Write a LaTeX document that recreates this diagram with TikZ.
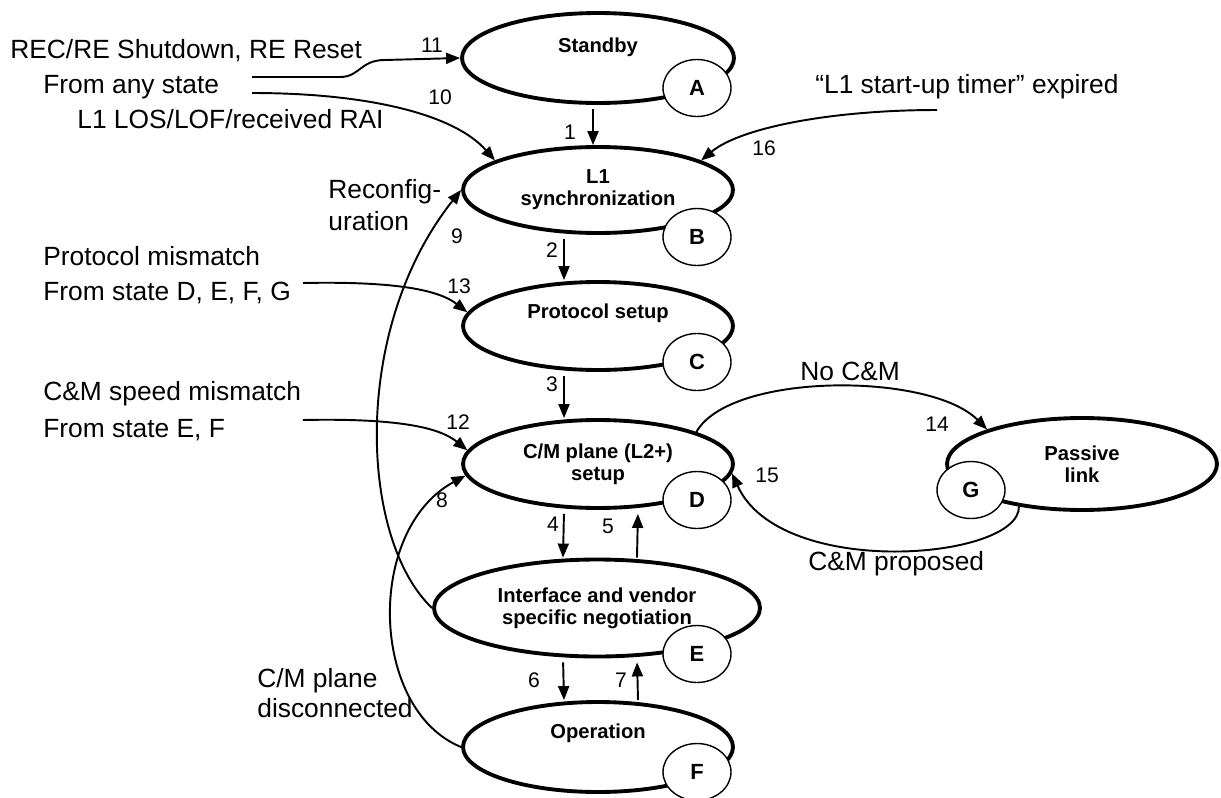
\documentclass[tikz,border=0pt]{standalone}
\usepackage{fontspec}
\setmainfont{Liberation Sans}
\usepackage{tikz}
\usetikzlibrary{
  shapes.geometric,
  arrows.meta
}

\begin{document}
\begin{tikzpicture}[
  x=0.02cm, y=-0.02cm,
  state/.style={
    ellipse, draw, line width=2.2pt,
    inner sep=0pt, align=center,
    font=\fontsize{11.5}{12.5}\selectfont\bfseries},
  stxt/.style={
    inner sep=0pt, align=center,
    font=\fontsize{11.5}{12.5}\selectfont\bfseries},
  tag/.style={
    ellipse, draw, fill=white, line width=0.8pt,
    minimum width=1.36cm, minimum height=1.14cm,
    inner sep=0pt,
    font=\fontsize{12.5}{14}\selectfont\bfseries},
  txt/.style={
    anchor=base west, inner sep=0pt,
    font=\fontsize{15}{20}\selectfont},
  num/.style={
    inner sep=0pt, font=\fontsize{12}{14}\selectfont},
  arr/.style={
    line width=1.1pt,
    -{Triangle[length=2.8mm, width=2.2mm]}}
]
\useasboundingbox (0,0) rectangle (1221,798);

\node[state, minimum width=5.44cm, minimum height=1.8cm,
  label={[stxt, yshift=0.22cm]center:Standby}] (sA) at (598,58) {};
\node[state, minimum width=5.4cm, minimum height=1.72cm]
  (sB) at (598,190) {L1\\synchronization};
\node[state, minimum width=5.4cm, minimum height=1.76cm,
  label={[stxt, yshift=0.26cm]center:Protocol setup}] (sC) at (598,326) {};
\node[state, minimum width=5.4cm, minimum height=1.76cm]
  (sD) at (598,464) {C/M plane (L2+)\\setup};
\node[state, minimum width=6.52cm, minimum height=1.94cm]
  (sE) at (597,608) {Interface and vendor\\specific negotiation};
\node[state, minimum width=5.4cm, minimum height=1.8cm,
  label={[stxt, yshift=0.28cm]center:Operation}] (sF) at (598,747) {};
\node[state, minimum width=5.4cm, minimum height=1.84cm]
  (sG) at (1082,464) {Passive\\link};

\node[txt] (tShut) at (10,58) {REC/RE Shutdown, RE Reset};
\node[txt] (tAny) at (43,93) {From any state};
\node[txt] (tLos) at (77,128) {L1 LOS/LOF/received RAI};
\node[txt] (tRecA) at (328,198) {Reconfig-};
\node[txt] (tRecB) at (328,230) {uration};
\node[txt] (tProtA) at (43,265) {Protocol mismatch};
\node[txt] (tProtB) at (43,300) {From state D, E, F, G};
\node[txt] (tSpdA) at (43,400) {C\&M speed mismatch};
\node[txt] (tSpdB) at (43,437) {From state E, F};
\node[txt] (tDiscA) at (257,687) {C/M plane};
\node[txt] (tDiscB) at (257,717) {disconnected};
\node[txt] (tTimer) at (815,93) {“L1 start-up timer” expired};
\node[txt] (tNoCM) at (800,380) {No C\&M};
\node[txt] (tProp) at (808,570) {C\&M proposed};

\coordinate (cShut) at (252,77);
\coordinate (cLos) at (252,93);
\coordinate (cProt) at (303,283);
\coordinate (cSpd) at (303,420);
\coordinate (cTimer) at (937,110);

\foreach \a/\b/\dx in
  {sA/sB/-0.1,sB/sC/-0.68,sC/sD/-0.68,sD/sE/-0.68,sE/sF/-0.68}{
  \draw[arr, shorten <=0.08cm]
    ([xshift=\dx cm]\a.south) -- ([xshift=\dx cm]\b.north);
}
\foreach \a/\b in {sE/sD,sF/sE}{
  \draw[arr, shorten >=0.08cm]
    ([xshift=0.8cm]\a.north) -- ([xshift=0.8cm]\b.south);
}

\draw[arr] (cShut) -- (340,77)
  .. controls (360,77) and (360,60) .. (385,60) -- (sA.west);
\draw[arr] (cLos) .. controls (370,93) and (455,115) .. (sB.164);
\draw[arr] (cTimer) .. controls (830,110) and (740,128) .. (sB.16);
\draw[arr] (cProt) .. controls (400,281) and (440,291) .. (sC.174);
\draw[arr] (cSpd) .. controls (400,418) and (440,428) .. (sD.174);
\draw[arr] (sE.west) .. controls (360,540) and (350,330) .. (sB.west);
\draw[arr] (sF.west) .. controls (370,710) and (365,530) .. (sD.185);
\draw[arr] (sD.18) .. controls (730,372) and (930,372) .. (sG.160);
\draw[arr] (sG.214) .. controls (1020,560) and (780,580) .. (sD.-4);

\node[tag] (gA) at (697,88) {A};
\node[tag] (gB) at (697,237) {B};
\node[tag] (gC) at (697,362) {C};
\node[tag] (gD) at (697,500) {D};
\node[tag] (gE) at (697,654) {E};
\node[tag] (gF) at (697,772) {F};
\node[tag] (gG) at (971,490) {G};

\node[num] (n1) at (570,132) {1};
\node[num] (n2) at (552,250) {2};
\node[num] (n3) at (552,384) {3};
\node[num] (n4) at (553,524) {4};
\node[num] (n5) at (608,526) {5};
\node[num] (n6) at (534,680) {6};
\node[num] (n7) at (621,680) {7};
\node[num] (n8) at (442,500) {8};
\node[num] (n9) at (457,236) {9};
\node[num] (n10) at (440,97) {10};
\node[num] (n11) at (432,45) {11};
\node[num] (n12) at (458,422) {12};
\node[num] (n13) at (459,286) {13};
\node[num] (n14) at (937,424) {14};
\node[num] (n15) at (767,475) {15};
\node[num] (n16) at (764,148) {16};
\end{tikzpicture}
\end{document}
